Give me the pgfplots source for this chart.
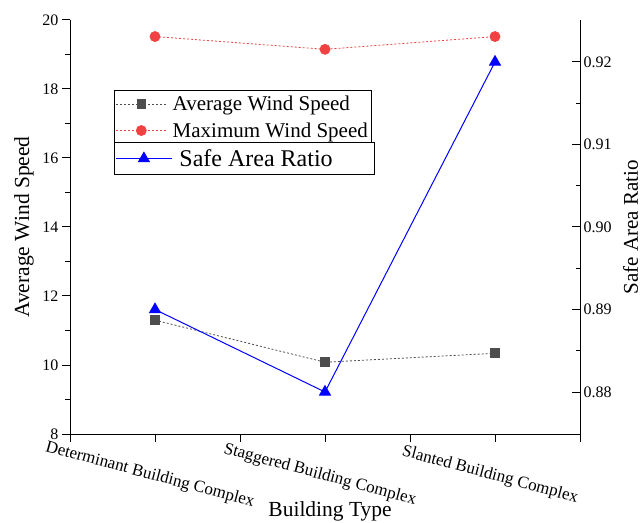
\documentclass[border=0pt]{standalone}
\usepackage{fontspec}
\setmainfont{Liberation Serif}
\usepackage{pgfplots}
\pgfplotsset{compat=1.18}
\definecolor{avgc}{RGB}{77,77,77}
\definecolor{maxc}{RGB}{240,66,66}
\definecolor{safec}{RGB}{0,0,255}
\begin{document}
\begin{tikzpicture}
\useasboundingbox (-70bp,-89bp) rectangle (573bp,434bp);
\pgfplotsset{
  common/.style={
    width=510bp, height=414bp, scale only axis,
    xmin=-0.5, xmax=2.5,
    /pgf/number format/assume math mode=true,
    axis line style={line width=1bp, black},
    major tick style={line width=1bp, black},
    minor tick style={line width=1bp, black},
    major tick length=8bp, minor tick length=4.5bp,
    clip=false,
  }
}
\begin{axis}[common, at={(0,0)}, anchor=south west,
  axis x line*=bottom, axis y line*=left,
  ymin=8, ymax=20,
  ytick={8,10,12,14,16,18,20}, minor ytick={9,11,13,15,17,19},
  xtick={0,1,2},
  xticklabels={Determinant Building Complex, Staggered Building Complex, Slanted Building Complex},
  extra x ticks={-0.5,0.5,1.5,2.5}, extra x tick labels={},
  extra x tick style={grid=none},
  tick align=outside,
  yticklabel style={font=\fontsize{16bp}{19bp}\selectfont},
  xticklabel style={font=\fontsize{17bp}{20bp}\selectfont, anchor=center, xshift=-5bp, yshift=-33bp, rotate=-15},
  every axis y label/.style={at={(axis description cs:-0.090,0.5)}, rotate=90, anchor=center, font=\fontsize{21.5bp}{24bp}\selectfont},
  every axis x label/.style={at={(axis description cs:0.51,-0.186)}, anchor=center, font=\fontsize{21.5bp}{24bp}\selectfont},
  ylabel={Average Wind Speed},
  xlabel={Building Type},
  legend style={at={(axis description cs:0.0863,0.831)}, anchor=north west, draw=black, line width=0.8bp,
    font=\fontsize{21bp}{23bp}\selectfont, inner xsep=1.5bp, inner ysep=3.6bp, row sep=6.5bp, column sep=4bp},
  legend cell align=left,
  legend image code/.code={\draw[mark repeat=2,mark phase=2,#1] plot coordinates {(0bp,0bp) (25bp,0bp) (50bp,0bp)};},
]
\addplot[avgc, line width=0.8bp, dash pattern=on 2bp off 2bp, mark=square*, mark size=4.4bp, mark options={solid, fill=avgc, draw=avgc}]
  coordinates {(0,11.3) (1,10.08) (2,10.34)};
\addlegendentry{Average Wind Speed}
\addplot[maxc, line width=0.8bp, dash pattern=on 2bp off 2bp, mark=*, mark size=5bp, mark options={solid, fill=maxc, draw=maxc}]
  coordinates {(0,19.52) (1,19.15) (2,19.52)};
\addlegendentry{Maximum Wind Speed}
\end{axis}
\begin{axis}[common, at={(0,0)}, anchor=south west,
  axis x line=none, axis y line*=right,
  ymin=0.87491, ymax=0.92509,
  ytick={0.88,0.89,0.90,0.91,0.92},
  minor ytick={0.885,0.895,0.905,0.915},
  scaled y ticks=false,
  yticklabel style={font=\fontsize{16bp}{19bp}\selectfont, /pgf/number format/.cd, fixed, fixed zerofill, precision=2},
  tick align=inside,
  every axis y label/.style={at={(axis description cs:1.099,0.5)}, rotate=90, anchor=center, font=\fontsize{21bp}{23bp}\selectfont},
  ylabel={Safe Area Ratio},
  legend style={at={(axis description cs:0.0863,0.7053)}, anchor=north west, draw=black, line width=0.8bp,
    font=\fontsize{24bp}{26bp}\selectfont, inner xsep=1bp, inner ysep=5bp, column sep=5bp},
  legend cell align=left,
  legend image code/.code={\draw[mark repeat=2,mark phase=2,#1] plot coordinates {(0bp,0bp) (28bp,0bp) (56bp,0bp)};},
]
\addplot[safec, line width=1bp, mark=triangle*, mark size=6.2bp, mark options={solid, fill=safec, draw=safec}]
  coordinates {(0,0.89) (1,0.88) (2,0.92)};
\addlegendentry{\makebox[192bp][l]{Safe Area Ratio}}
\end{axis}
\end{tikzpicture}
\end{document}
